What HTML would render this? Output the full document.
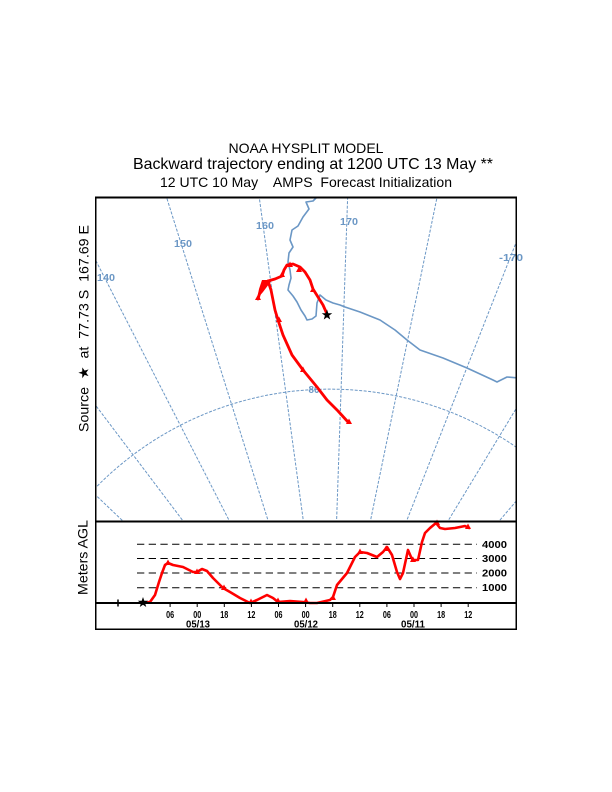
<!DOCTYPE html>
<html><head><meta charset="utf-8"><style>html,body{margin:0;padding:0;background:#fff;width:612px;height:792px;overflow:hidden}svg{display:block}</style></head>
<body>
<svg width="612" height="792" viewBox="0 0 612 792" xmlns="http://www.w3.org/2000/svg" font-family="'Liberation Sans', Arial, sans-serif" overflow="hidden">
<rect width="612" height="792" fill="#fff"/>
<defs><clipPath id="m"><rect x="95.5" y="197.5" width="421" height="324"/></clipPath></defs>

<!-- Titles -->
<text x="306" y="153" font-size="14" text-anchor="middle" textLength="155" lengthAdjust="spacingAndGlyphs">NOAA HYSPLIT MODEL</text>
<text x="313" y="169" font-size="16" text-anchor="middle" textLength="360" lengthAdjust="spacingAndGlyphs">Backward trajectory ending at 1200 UTC 13 May **</text>
<text x="306" y="187" font-size="14" text-anchor="middle" style="white-space:pre" textLength="292" lengthAdjust="spacingAndGlyphs">12 UTC 10 May    AMPS  Forecast Initialization</text>

<!-- Side labels -->
<text transform="translate(88.5,328.5) rotate(-90)" font-size="14" text-anchor="middle" style="white-space:pre" textLength="207" lengthAdjust="spacingAndGlyphs">Source  ★  at  77.73 S  167.69 E</text>
<text transform="translate(87.5,557.5) rotate(-90)" font-size="14" text-anchor="middle" textLength="75" lengthAdjust="spacingAndGlyphs">Meters AGL</text>

<!-- Map grid -->
<g clip-path="url(#m)" stroke="#6b97c5" stroke-width="1" fill="none" stroke-dasharray="3 1.5">
<line x1="125.5" y1="523.5" x2="93.5" y2="493"/>
<line x1="185" y1="523.5" x2="93.5" y2="402.5"/>
<line x1="230.7" y1="523.5" x2="94.5" y2="258"/>
<line x1="269" y1="523.5" x2="166" y2="195.5"/>
<line x1="303.7" y1="523.5" x2="259" y2="195.5"/>
<line x1="336.5" y1="523.5" x2="347.7" y2="195.5"/>
<line x1="369.9" y1="523.5" x2="437.4" y2="195.5"/>
<line x1="405.6" y1="523.5" x2="518" y2="237.7"/>
<line x1="446.5" y1="523.5" x2="518" y2="405.5"/>
<line x1="497" y1="523.5" x2="518" y2="499"/>
<path d="M79,506 A328,328 0 0 1 581,506"/>
</g>

<!-- Coastline -->
<path clip-path="url(#m)" fill="none" stroke="#6b97c5" stroke-width="1.6" stroke-linejoin="round"
 d="M317,197 L313,201 L306,202 L309,209 L303,217 L298,226 L292,230 L290,240 L293,247 L289,253 L288,262 L290,270 L291,278 L289,285 L288,290 L293,296 L297,302 L301,310 L305,316 L307,320 L312,319 L316,316 L317,303 L320,295 L326,300 L333,303 L340,305 L345,307 L360,312 L380,320 L395,330 L407,340 L420,350 L443,358 L467,368 L493,380 L497,382 L507,377 L518,378"/>

<!-- Map labels -->
<g fill="#6b97c5" font-size="10" text-anchor="middle" font-weight="bold">
<text x="106" y="281" textLength="18" lengthAdjust="spacingAndGlyphs">140</text>
<text x="183" y="247" textLength="18" lengthAdjust="spacingAndGlyphs">150</text>
<text x="265" y="229" textLength="18" lengthAdjust="spacingAndGlyphs">160</text>
<text x="349" y="225" textLength="18" lengthAdjust="spacingAndGlyphs">170</text>
<text x="511" y="261" textLength="24" lengthAdjust="spacingAndGlyphs">-170</text>
<text x="314" y="393" textLength="11" lengthAdjust="spacingAndGlyphs">80</text>
</g>

<!-- Trajectory on map -->
<g stroke="#ff0000" stroke-width="2.8" fill="none" stroke-linejoin="round" stroke-linecap="round">
<polyline points="327,314 323,305 318,297 313,289 310,280 305,272 300,267 293,264 287,265 284,270 282,276 275,279 268,281 264,285 260,292 258,299"/>
<polyline points="268,281 271,290 273,300 275,310 278,320 283,335 292,355 303,370 317,387 327,400 338,411 348,422"/>
</g>
<polygon points="262,280 272,280 263,292 257,299 259,289" fill="#ff0000"/>
<g fill="#ff0000">
<path transform="translate(258,298)" d="M0,-3.5 L3,2 L-3,2 Z"/>
<path transform="translate(282,275)" d="M0,-3.5 L3,2 L-3,2 Z"/>
<path transform="translate(299,270)" d="M0,-3.5 L3,2 L-3,2 Z"/>
<path transform="translate(290,265)" d="M0,-3.5 L3,2 L-3,2 Z"/>
<path transform="translate(313,290)" d="M0,-3.5 L3,2 L-3,2 Z"/>
<path transform="translate(279,320)" d="M0,-3.5 L3,2 L-3,2 Z"/>
<path transform="translate(303,370)" d="M0,-3.5 L3,2 L-3,2 Z"/>
<path transform="translate(349,422)" d="M0,-3.5 L3,2 L-3,2 Z"/>
</g>
<path transform="translate(327,315)" d="M0,-5.5 L1.29,-1.78 L5.23,-1.7 L2.09,0.68 L3.23,4.45 L0,2.2 L-3.23,4.45 L-2.09,0.68 L-5.23,-1.7 L-1.29,-1.78 Z" fill="#000"/>

<!-- Height panel -->
<g stroke="#000" stroke-width="1" stroke-dasharray="7.3 4.4">
<line x1="137" y1="544.3" x2="477" y2="544.3"/>
<line x1="137" y1="558.5" x2="477" y2="558.5"/>
<line x1="137" y1="573" x2="477" y2="573"/>
<line x1="137" y1="587.7" x2="477" y2="587.7"/>
</g>
<g font-size="10" text-anchor="start" font-weight="bold">
<text x="482" y="547.8" textLength="25" lengthAdjust="spacingAndGlyphs">4000</text>
<text x="482" y="562" textLength="25" lengthAdjust="spacingAndGlyphs">3000</text>
<text x="482" y="576.5" textLength="25" lengthAdjust="spacingAndGlyphs">2000</text>
<text x="482" y="591.2" textLength="25" lengthAdjust="spacingAndGlyphs">1000</text>
</g>

<!-- Time ticks -->
<g stroke="#000" stroke-width="1">
<line x1="170.1" y1="603" x2="170.1" y2="607"/>
<line x1="197.2" y1="603" x2="197.2" y2="607"/>
<line x1="224.3" y1="603" x2="224.3" y2="607"/>
<line x1="251.4" y1="603" x2="251.4" y2="607"/>
<line x1="278.5" y1="603" x2="278.5" y2="607"/>
<line x1="305.6" y1="603" x2="305.6" y2="607"/>
<line x1="332.7" y1="603" x2="332.7" y2="607"/>
<line x1="359.8" y1="603" x2="359.8" y2="607"/>
<line x1="386.9" y1="603" x2="386.9" y2="607"/>
<line x1="414" y1="603" x2="414" y2="607"/>
<line x1="441.1" y1="603" x2="441.1" y2="607"/>
<line x1="468.2" y1="603" x2="468.2" y2="607"/>
</g>
<g font-size="10" text-anchor="middle" font-weight="bold">
<text x="170.1" y="618" textLength="8" lengthAdjust="spacingAndGlyphs">06</text>
<text x="197.2" y="618" textLength="8" lengthAdjust="spacingAndGlyphs">00</text>
<text x="224.3" y="618" textLength="8" lengthAdjust="spacingAndGlyphs">18</text>
<text x="251.4" y="618" textLength="8" lengthAdjust="spacingAndGlyphs">12</text>
<text x="278.5" y="618" textLength="8" lengthAdjust="spacingAndGlyphs">06</text>
<text x="305.6" y="618" textLength="8" lengthAdjust="spacingAndGlyphs">00</text>
<text x="332.7" y="618" textLength="8" lengthAdjust="spacingAndGlyphs">18</text>
<text x="359.8" y="618" textLength="8" lengthAdjust="spacingAndGlyphs">12</text>
<text x="386.9" y="618" textLength="8" lengthAdjust="spacingAndGlyphs">06</text>
<text x="414" y="618" textLength="8" lengthAdjust="spacingAndGlyphs">00</text>
<text x="441.1" y="618" textLength="8" lengthAdjust="spacingAndGlyphs">18</text>
<text x="468.2" y="618" textLength="8" lengthAdjust="spacingAndGlyphs">12</text>
<text x="198" y="627.3" textLength="24" lengthAdjust="spacingAndGlyphs">05/13</text>
<text x="306" y="627.3" textLength="24" lengthAdjust="spacingAndGlyphs">05/12</text>
<text x="413" y="627.3" textLength="24" lengthAdjust="spacingAndGlyphs">05/11</text>
</g>

<!-- Height trace -->
<polyline fill="none" stroke="#ff0000" stroke-width="2.6" stroke-linejoin="round" stroke-linecap="round"
 points="143,603 150,602 155,595 159,582 162,573 165,565 168,563 173,565 183,567 193,572 197,572 202,569 207,571 213,578 223,588 230,592 240,598 250,603 257,600 267,595 273,598 278,602 290,601 303,602 310,603 317,603 330,600 333,597 337,585 347,573 355,557 360,552 367,553 377,557 383,552 387,547 392,555 397,572 400,579 403,573 408,550 411,557 413,560 418,560 422,542 425,533 430,528 436,523 440,528 445,529 455,528 465,526 469,528"/>
<g fill="#ff0000">
<path transform="translate(168,563)" d="M0,-3.5 L3,2 L-3,2 Z"/>
<path transform="translate(197,572)" d="M0,-3.5 L3,2 L-3,2 Z"/>
<path transform="translate(224,588)" d="M0,-3.5 L3,2 L-3,2 Z"/>
<path transform="translate(251,602)" d="M0,-3.5 L3,2 L-3,2 Z"/>
<path transform="translate(278,601)" d="M0,-3.5 L3,2 L-3,2 Z"/>
<path transform="translate(306,601)" d="M0,-3.5 L3,2 L-3,2 Z"/>
<path transform="translate(333,598)" d="M0,-3.5 L3,2 L-3,2 Z"/>
<path transform="translate(360,552)" d="M0,-3.5 L3,2 L-3,2 Z"/>
<path transform="translate(386,549)" d="M0,-3.5 L3,2 L-3,2 Z"/>
<path transform="translate(413,560)" d="M0,-3.5 L3,2 L-3,2 Z"/>
<path transform="translate(437,523)" d="M0,-3.5 L3,2 L-3,2 Z"/>
<path transform="translate(468,527)" d="M0,-3.5 L3,2 L-3,2 Z"/>
</g>

<!-- Baseline markers -->
<path d="M114.5,603 H121.5 M118,599.5 V606.5" stroke="#000" stroke-width="1.5"/>
<path transform="translate(143,602.5)" d="M0,-5.5 L1.29,-1.78 L5.23,-1.7 L2.09,0.68 L3.23,4.45 L0,2.2 L-3.23,4.45 L-2.09,0.68 L-5.23,-1.7 L-1.29,-1.78 Z" fill="#000"/>

<!-- Frames -->
<rect x="95.75" y="197.75" width="420.5" height="431.5" fill="none" stroke="#000" stroke-width="1.5"/>
<line x1="95" y1="197.5" x2="517" y2="197.5" stroke="#000" stroke-width="2"/>
<line x1="95" y1="521.5" x2="517" y2="521.5" stroke="#000" stroke-width="2"/>
<line x1="95" y1="603" x2="517" y2="603" stroke="#000" stroke-width="2"/>
</svg>
</body></html>
